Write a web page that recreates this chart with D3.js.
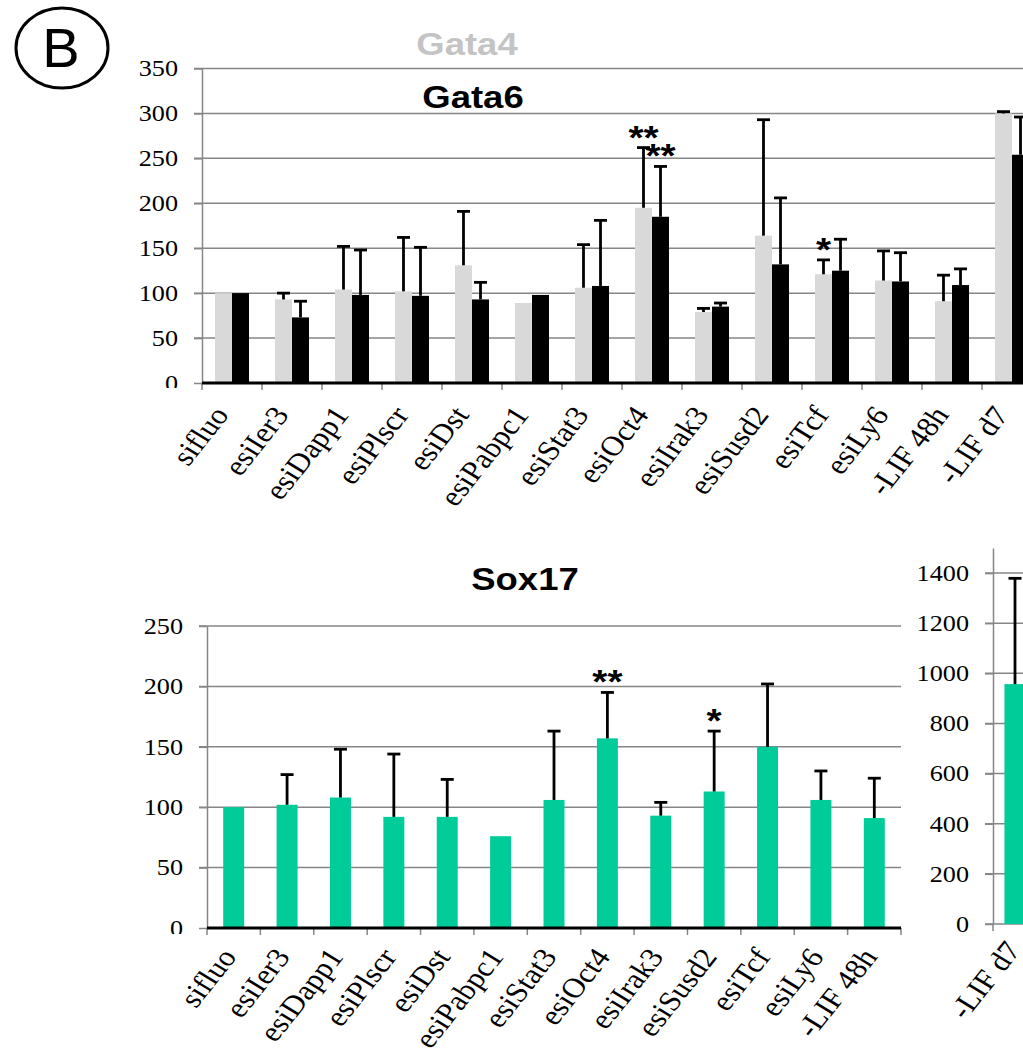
<!DOCTYPE html>
<html>
<head>
<meta charset="utf-8">
<script src="https://cdn.jsdelivr.net/npm/d3@7"></script>
<style>
  body { margin: 0; background: #fff; }
  svg { display: block; }
</style>
</head>
<body>
<svg width="1023" height="1051"></svg>
<script>
const categories = ["sifluo", "esiIer3", "esiDapp1", "esiPlscr", "esiDst", "esiPabpc1", "esiStat3",
  "esiOct4", "esiIrak3", "esiSusd2", "esiTcf", "esiLy6", "-LIF 48h", "-LIF d7"];

const gata4Values = [100, 93, 104, 102, 131, 89, 106, 195, 79, 164, 121, 114, 91, 300];
const gata4Errors = [0, 7, 48, 60, 60, 0, 48, 67, 4, 129, 16, 33, 29, 2];
const gata4Stars = ["", "", "", "", "", "", "", "**", "", "", "*", "", "", ""];

const gata6Values = [100, 73, 98, 97, 93, 98, 108, 185, 85, 132, 125, 113, 109, 254];
const gata6Errors = [0, 18, 50, 54, 19, 0, 73, 56, 4, 74, 35, 32, 18, 42];
const gata6Stars = ["", "", "", "", "", "", "", "**", "", "", "", "", "", ""];

const sox17Categories = categories.slice(0, 13);
const sox17Values = [100, 102, 108, 92, 92, 76, 106, 157, 93, 113, 150, 106, 91];
const sox17Errors = [0, 25, 40, 52, 31, 0, 57, 38, 11, 50, 52, 24, 33];
const sox17Stars = ["", "", "", "", "", "", "", "**", "", "*", "", "", ""];

const insetCategories = ["-LIF d7"];
const insetValues = [957];
const insetErrors = [422];

const topTicks = [0, 50, 100, 150, 200, 250, 300, 350];
const sox17Ticks = [0, 50, 100, 150, 200, 250];
const insetTicks = [0, 200, 400, 600, 800, 1000, 1200, 1400];

const svg = d3.select("svg");
const gridColor = "#868686";
const serif = "'Liberation Serif', 'Times New Roman', serif";
const sans = "'Liberation Sans', Arial, sans-serif";
const stretch = 1.14; // the source picture is a bit wider than tall
const labelAngle = -55;
const labelSize = "28px";

// panel letter
svg.append("ellipse")
  .attr("cx", 62).attr("cy", 48).attr("rx", 46).attr("ry", 40)
  .attr("fill", "none").attr("stroke", "#000").attr("stroke-width", 3);
svg.append("text")
  .attr("x", 61).attr("y", 67)
  .attr("text-anchor", "middle")
  .style("font-family", sans).style("font-size", "56px")
  .text("B");

// y axis with gridlines, ticks and labels
function drawYAxis(y, ticks, axisX, gridEnd, showZeroGrid) {
  const g = svg.append("g");
  g.selectAll("line.grid")
    .data(ticks.filter(d => showZeroGrid || d > 0))
    .join("line")
    .classed("grid", true)
    .attr("x1", axisX - 8).attr("x2", gridEnd)
    .attr("y1", d => y(d)).attr("y2", d => y(d))
    .attr("stroke", gridColor).attr("stroke-width", 1.5);

  const axis = d3.axisLeft(y).tickValues(ticks).tickSize(8).tickSizeOuter(0)
    .tickFormat(d3.format("d"));
  const a = g.append("g").attr("transform", `translate(${axisX},0)`).call(axis);
  a.select(".domain").attr("stroke", gridColor).attr("stroke-width", 1.5);
  a.selectAll(".tick line").attr("stroke", gridColor).attr("stroke-width", 1.5);
  a.selectAll(".tick text")
    .attr("x", -24 / stretch)
    .attr("transform", `scale(${stretch},1)`)
    .style("font-family", serif).style("font-size", "23px").attr("fill", "#000");
  return g;
}

function drawXAxis(x, axisY, color, width, labelDx, labelDy) {
  const g = svg.append("g");
  const half = (x.step() - x.bandwidth()) / 2;
  const bounds = x.domain().map(c => x(c) - half);
  bounds.push(x(x.domain()[x.domain().length - 1]) + x.bandwidth() + half);

  g.selectAll("line.xtick")
    .data(bounds)
    .join("line")
    .classed("xtick", true)
    .attr("x1", d => d).attr("x2", d => d)
    .attr("y1", axisY).attr("y2", axisY + 7)
    .attr("stroke", gridColor).attr("stroke-width", 1.5);

  g.append("line")
    .attr("x1", bounds[0]).attr("x2", bounds[bounds.length - 1])
    .attr("y1", axisY).attr("y2", axisY)
    .attr("stroke", color).attr("stroke-width", width);

  g.selectAll("text.xlabel")
    .data(x.domain())
    .join("text")
    .classed("xlabel", true)
    .attr("text-anchor", "end")
    .attr("transform", d => `translate(${x(d) + x.bandwidth() / 2 + labelDx},${axisY + labelDy}) scale(${stretch},1) rotate(${labelAngle})`)
    .style("font-family", serif).style("font-size", labelSize)
    .text(d => d);
}

function drawErrors(xPos, y, values, errors, barW) {
  const data = values.map((v, i) => ({ i: i, v: v, e: errors[i] })).filter(d => d.e > 0);
  const g = svg.append("g").attr("stroke", "#000").attr("stroke-width", 2.8);
  g.selectAll("line.stem")
    .data(data)
    .join("line")
    .attr("x1", d => xPos(d.i) + barW / 2).attr("x2", d => xPos(d.i) + barW / 2)
    .attr("y1", d => y(d.v)).attr("y2", d => y(d.v + d.e));
  g.selectAll("line.cap")
    .data(data)
    .join("line")
    .attr("x1", d => xPos(d.i) + barW / 2 - 6.5).attr("x2", d => xPos(d.i) + barW / 2 + 6.5)
    .attr("y1", d => y(d.v + d.e)).attr("y2", d => y(d.v + d.e));
}

function drawStars(xPos, y, values, errors, stars, barW) {
  svg.append("g").selectAll("text")
    .data(stars.map((s, i) => ({ s: s, i: i })).filter(d => d.s))
    .join("text")
    .attr("transform", d => `translate(${xPos(d.i) + barW / 2},${y(values[d.i] + errors[d.i]) + 1}) scale(${stretch},1)`)
    .attr("text-anchor", "middle")
    .style("font-family", sans).style("font-size", "34px").style("font-weight", "bold")
    .text(d => d.s);
}

function drawTitle(text, cx, baseline, color) {
  svg.append("text")
    .attr("transform", `translate(${cx},${baseline}) scale(${stretch},1)`)
    .attr("text-anchor", "middle")
    .style("font-family", sans).style("font-size", "32px").style("font-weight", "bold")
    .attr("fill", color)
    .text(text);
}

// ---------- top chart: Gata4 / Gata6 ----------
const yTop = d3.scaleLinear().domain([0, 350]).range([383, 68.5]);
const xTop = d3.scaleBand().domain(categories).range([202, 1042])
  .paddingInner(0.433).paddingOuter(0.2165);
const xSeries = d3.scaleBand().domain(["Gata4", "Gata6"]).range([0, xTop.bandwidth()]);

drawYAxis(yTop, topTicks, 202, 1042, false);

svg.append("g").selectAll("rect")
  .data(gata4Values)
  .join("rect")
  .attr("x", (d, i) => xTop(categories[i]) + xSeries("Gata4"))
  .attr("y", d => yTop(d))
  .attr("width", xSeries.bandwidth())
  .attr("height", d => yTop(0) - yTop(d))
  .attr("fill", "#d9d9d9");

svg.append("g").selectAll("rect")
  .data(gata6Values)
  .join("rect")
  .attr("x", (d, i) => xTop(categories[i]) + xSeries("Gata6"))
  .attr("y", d => yTop(d))
  .attr("width", xSeries.bandwidth())
  .attr("height", d => yTop(0) - yTop(d))
  .attr("fill", "#000");

const g4x = i => xTop(categories[i]) + xSeries("Gata4");
const g6x = i => xTop(categories[i]) + xSeries("Gata6");
drawErrors(g4x, yTop, gata4Values, gata4Errors, xSeries.bandwidth());
drawErrors(g6x, yTop, gata6Values, gata6Errors, xSeries.bandwidth());
drawStars(g4x, yTop, gata4Values, gata4Errors, gata4Stars, xSeries.bandwidth());
drawStars(g6x, yTop, gata6Values, gata6Errors, gata6Stars, xSeries.bandwidth());

drawXAxis(xTop, 383, "#000", 3, -2, 32);

// the "0" label is cut at the bottom in the source
svg.append("rect").attr("x", 120).attr("y", 388).attr("width", 70).attr("height", 10).attr("fill", "#fff");

drawTitle("Gata4", 467, 55, "#c4c4c4");
drawTitle("Gata6", 473, 108, "#000");

// ---------- bottom chart: Sox17 ----------
const ySox = d3.scaleLinear().domain([0, 250]).range([928, 626]);
const xSox = d3.scaleBand().domain(sox17Categories).range([207, 901])
  .paddingInner(0.607).paddingOuter(0.3035);

drawYAxis(ySox, sox17Ticks, 207, 901, false);

svg.append("g").selectAll("rect")
  .data(sox17Values)
  .join("rect")
  .attr("x", (d, i) => xSox(sox17Categories[i]))
  .attr("y", d => ySox(d))
  .attr("width", xSox.bandwidth())
  .attr("height", d => ySox(0) - ySox(d))
  .attr("fill", "#00cc99");

const sx = i => xSox(sox17Categories[i]);
drawErrors(sx, ySox, sox17Values, sox17Errors, xSox.bandwidth());
drawStars(sx, ySox, sox17Values, sox17Errors, sox17Stars, xSox.bandwidth());

drawXAxis(xSox, 928, "#000", 3, 4, 29);
svg.append("rect").attr("x", 120).attr("y", 934).attr("width", 70).attr("height", 10).attr("fill", "#fff");

drawTitle("Sox17", 525, 590, "#000");

// ---------- inset: -LIF d7 ----------
const yInset = d3.scaleLinear().domain([0, 1500]).range([924, 548]);
const xInset = d3.scaleBand().domain(insetCategories).range([993, 1037]).paddingInner(0.52).paddingOuter(0.26);

drawYAxis(yInset, insetTicks, 993, 1023, true);

svg.append("g").selectAll("rect")
  .data(insetValues)
  .join("rect")
  .attr("x", (d, i) => xInset(insetCategories[i]))
  .attr("y", d => yInset(d))
  .attr("width", xInset.bandwidth())
  .attr("height", d => yInset(0) - yInset(d))
  .attr("fill", "#00cc99");

drawErrors(i => xInset(insetCategories[i]), yInset, insetValues, insetErrors, xInset.bandwidth());

svg.append("line")
  .attr("x1", 993).attr("x2", 993).attr("y1", 924).attr("y2", 931)
  .attr("stroke", gridColor).attr("stroke-width", 1.5);
svg.append("g").selectAll("text")
  .data(insetCategories)
  .join("text")
  .attr("text-anchor", "end")
  .attr("transform", d => `translate(${xInset(d) + xInset.bandwidth() / 2 + 7},${924 + 26}) scale(${stretch},1) rotate(${labelAngle})`)
  .style("font-family", serif).style("font-size", labelSize)
  .text(d => d);
</script>
</body>
</html>
